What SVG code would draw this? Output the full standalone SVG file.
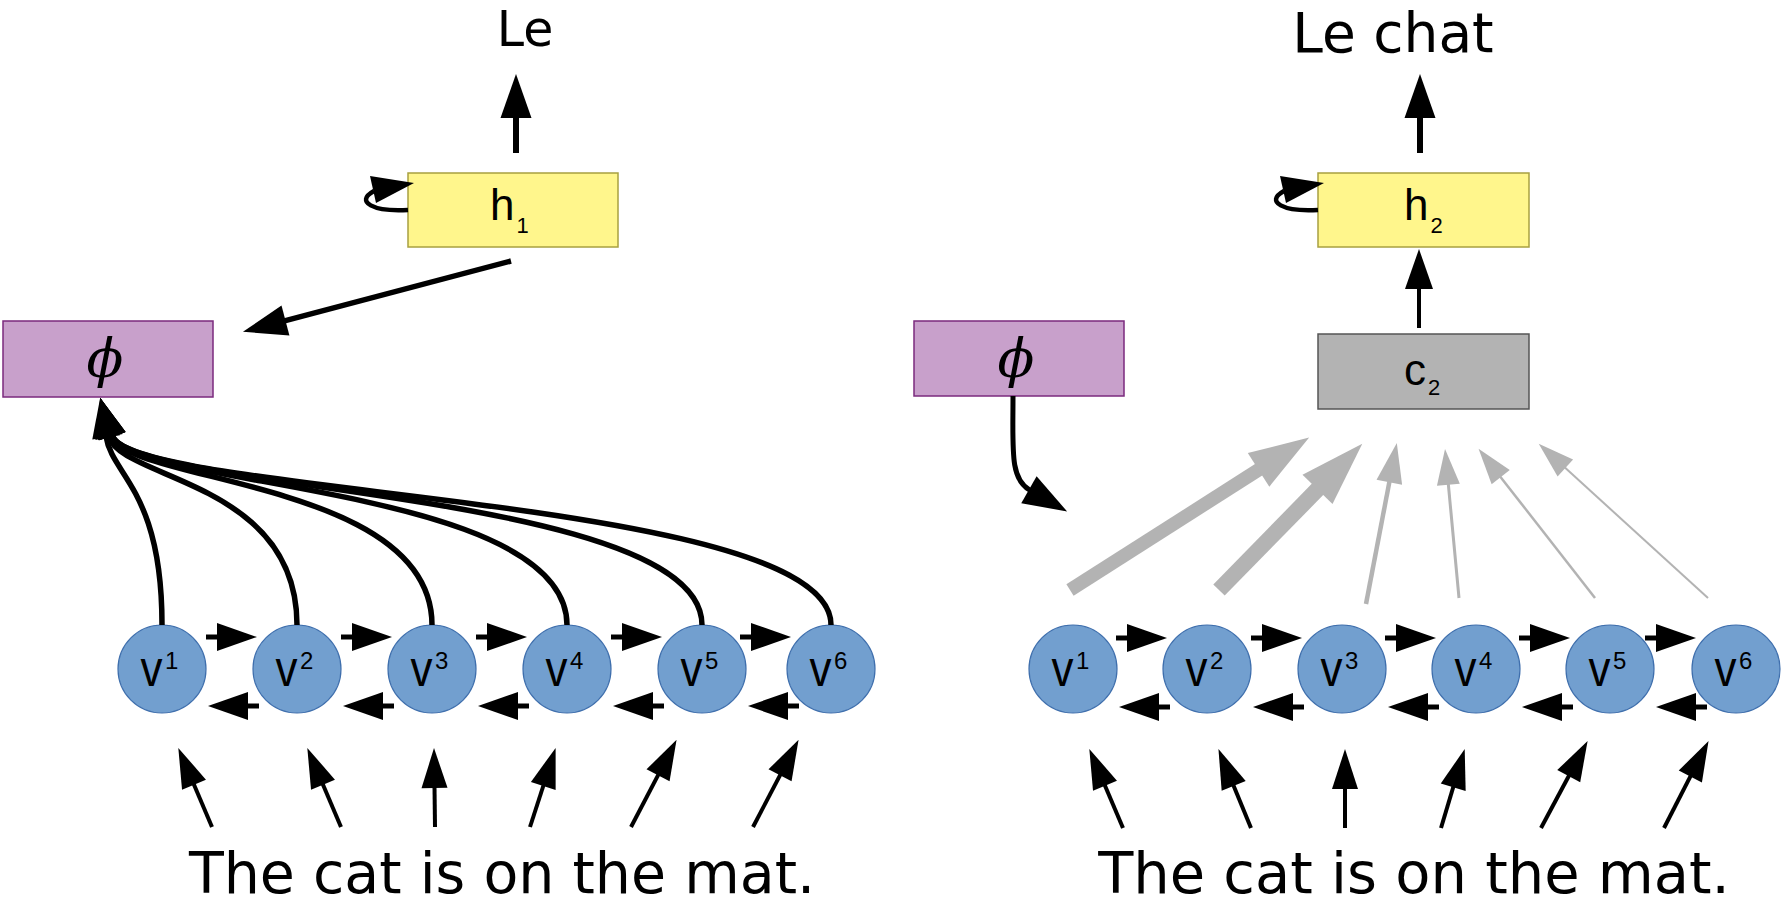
<svg xmlns="http://www.w3.org/2000/svg" width="1789" height="907" viewBox="0 0 1789 907">
<defs>
<style>
.big{font-family:"DejaVu Sans","Verdana",sans-serif;fill:#000}
.lbl{font-family:"Liberation Sans","Arial",sans-serif;fill:#000}
.vv{font-family:"Liberation Sans","Arial",sans-serif;fill:#000;font-size:44px}
.sup{font-family:"Liberation Sans","Arial",sans-serif;fill:#000;font-size:24px}
.phi{font-family:"DejaVu Serif","Liberation Serif",serif;font-style:italic;fill:#000}
.hbox{fill:#fff68c;stroke:#a8a040;stroke-width:1.5}
.pbox{fill:#c8a0cb;stroke:#7b2a7e;stroke-width:1.5}
.cbox{fill:#b3b3b3;stroke:#555;stroke-width:1.5}
.vc{fill:#729fcf;stroke:#3f6fad;stroke-width:1.2}
.k{fill:none;stroke:#000;stroke-linecap:butt}
.g{fill:none;stroke:#b3b3b3;stroke-linecap:butt}
</style>
<marker id="mBig" markerUnits="userSpaceOnUse" markerWidth="46" markerHeight="33" refX="1" refY="15.5" orient="auto" overflow="visible"><path d="M0,0 L44,15.5 L0,31 Z" fill="#000"/></marker>
<marker id="mMid" markerUnits="userSpaceOnUse" markerWidth="42" markerHeight="30" refX="1" refY="14" orient="auto" overflow="visible"><path d="M0,0 L40,14 L0,28 Z" fill="#000"/></marker>
<marker id="mIn" markerUnits="userSpaceOnUse" markerWidth="42" markerHeight="28" refX="1" refY="13" orient="auto" overflow="visible"><path d="M0,0 L40,13 L0,26 Z" fill="#000"/></marker>
<marker id="mG1" markerUnits="userSpaceOnUse" markerWidth="62" markerHeight="42" refX="1" refY="20" orient="auto" overflow="visible"><path d="M0,0 L60,20 L0,40 Z" fill="#b3b3b3"/></marker>
<marker id="mG2" markerUnits="userSpaceOnUse" markerWidth="66" markerHeight="44" refX="1" refY="21" orient="auto" overflow="visible"><path d="M0,0 L64,21 L0,42 Z" fill="#b3b3b3"/></marker>
<marker id="mG3" markerUnits="userSpaceOnUse" markerWidth="42" markerHeight="28" refX="1" refY="13" orient="auto" overflow="visible"><path d="M0,0 L40,13 L0,26 Z" fill="#b3b3b3"/></marker>
<marker id="mGs" markerUnits="userSpaceOnUse" markerWidth="38" markerHeight="25" refX="1" refY="11.5" orient="auto" overflow="visible"><path d="M0,0 L36,11.5 L0,23 Z" fill="#b3b3b3"/></marker>
</defs>
<rect width="1789" height="907" fill="#fff"/>

<g id="out-left"><text class="big" x="525" y="46" font-size="49" text-anchor="middle">Le</text></g>
<g id="out-right"><text class="big" x="1393" y="52" font-size="55" text-anchor="middle">Le chat</text></g>
<g id="in-left"><text class="big" x="502" y="893" font-size="57" text-anchor="middle">The cat is on the mat.</text></g>
<g id="in-right"><text class="big" x="1414" y="893" font-size="57.5" text-anchor="middle">The cat is on the mat.</text></g>

<g id="h1"><rect class="hbox" x="408" y="173" width="210" height="74"/><text class="lbl" x="490" y="220" font-size="44">h<tspan font-size="22" dx="2" dy="13">1</tspan></text></g>
<g id="h2"><rect class="hbox" x="1318" y="173" width="211" height="74"/><text class="lbl" x="1404" y="220" font-size="44">h<tspan font-size="22" dx="2" dy="13">2</tspan></text></g>
<g id="phi-left"><rect class="pbox" x="3" y="321" width="210" height="76"/><text class="phi" x="105" y="377" font-size="54" text-anchor="middle">ϕ</text></g>
<g id="phi-right"><rect class="pbox" x="914" y="321" width="210" height="75"/><text class="phi" x="1016" y="377" font-size="54" text-anchor="middle">ϕ</text></g>
<g id="c2"><rect class="cbox" x="1318" y="334" width="211" height="75"/><text class="lbl" x="1404" y="385" font-size="44">c<tspan font-size="22" dx="2" dy="10">2</tspan></text></g>

<g id="vL1"><circle class="vc" cx="162" cy="669" r="44"/><text class="vv" transform="translate(140.5,686) scale(1,1.12)">v</text><text class="sup" x="165" y="669">1</text></g>
<g id="vL2"><circle class="vc" cx="297" cy="669" r="44"/><text class="vv" transform="translate(275.5,686) scale(1,1.12)">v</text><text class="sup" x="300" y="669">2</text></g>
<g id="vL3"><circle class="vc" cx="432" cy="669" r="44"/><text class="vv" transform="translate(410.5,686) scale(1,1.12)">v</text><text class="sup" x="435" y="669">3</text></g>
<g id="vL4"><circle class="vc" cx="567" cy="669" r="44"/><text class="vv" transform="translate(545.5,686) scale(1,1.12)">v</text><text class="sup" x="570" y="669">4</text></g>
<g id="vL5"><circle class="vc" cx="702" cy="669" r="44"/><text class="vv" transform="translate(680.5,686) scale(1,1.12)">v</text><text class="sup" x="705" y="669">5</text></g>
<g id="vL6"><circle class="vc" cx="831" cy="669" r="44"/><text class="vv" transform="translate(809.5,686) scale(1,1.12)">v</text><text class="sup" x="834" y="669">6</text></g>
<g id="vR1"><circle class="vc" cx="1073" cy="669" r="44"/><text class="vv" transform="translate(1051.5,686) scale(1,1.12)">v</text><text class="sup" x="1076" y="669">1</text></g>
<g id="vR2"><circle class="vc" cx="1207" cy="669" r="44"/><text class="vv" transform="translate(1185.5,686) scale(1,1.12)">v</text><text class="sup" x="1210" y="669">2</text></g>
<g id="vR3"><circle class="vc" cx="1342" cy="669" r="44"/><text class="vv" transform="translate(1320.5,686) scale(1,1.12)">v</text><text class="sup" x="1345" y="669">3</text></g>
<g id="vR4"><circle class="vc" cx="1476" cy="669" r="44"/><text class="vv" transform="translate(1454.5,686) scale(1,1.12)">v</text><text class="sup" x="1479" y="669">4</text></g>
<g id="vR5"><circle class="vc" cx="1610" cy="669" r="44"/><text class="vv" transform="translate(1588.5,686) scale(1,1.12)">v</text><text class="sup" x="1613" y="669">5</text></g>
<g id="vR6"><circle class="vc" cx="1736" cy="669" r="44"/><text class="vv" transform="translate(1714.5,686) scale(1,1.12)">v</text><text class="sup" x="1739" y="669">6</text></g>

<g id="connectors">
<path class="k" stroke-width="6" d="M516,153 L516,117" marker-end="url(#mBig)"/>
<path class="k" stroke-width="6" d="M1420,153 L1420,117" marker-end="url(#mBig)"/>
<path class="k" stroke-width="4" d="M1419,328 L1419,288" marker-end="url(#mMid)"/>
<path class="k" stroke-width="4.5" d="M408,210 C374,212 354,202 374,191"/>
<polygon points="370,176 376,203 414,183" fill="#000"/>
<path class="k" stroke-width="4.5" d="M1318,210 C1284,212 1264,202 1284,191"/>
<polygon points="1280,176 1286,203 1324,183" fill="#000"/>
<path class="k" stroke-width="5.5" d="M511,261 L284.5,320.8" marker-end="url(#mBig)"/>
<path class="k" stroke-width="5.5" d="M162,625 C162,490 112,476 106,436.4" marker-end="url(#mMid)"/>
<path class="k" stroke-width="5.5" d="M297,625 C297,480 118.7,479.9 108.8,436" marker-end="url(#mMid)"/>
<path class="k" stroke-width="5.5" d="M432,625 C432,480 125.2,483.4 111.2,435.4" marker-end="url(#mMid)"/>
<path class="k" stroke-width="5.5" d="M567,625 C567,485 128.5,487.7 112,435.2" marker-end="url(#mMid)"/>
<path class="k" stroke-width="5.5" d="M702,625 C702,490 130,492.4 112,435.2" marker-end="url(#mMid)"/>
<path class="k" stroke-width="5.5" d="M831,625 C831,495 131.5,497 112,435.2" marker-end="url(#mMid)"/>
<path class="k" stroke-width="5" d="M1013,396 C1013,450 1009.8,478.8 1029.8,490.2" marker-end="url(#mBig)"/>
<path class="g" stroke-width="13.5" d="M1070,590 L1259.4,469.3" marker-end="url(#mG1)"/>
<path class="g" stroke-width="16" d="M1219,590 L1318.2,488.7" marker-end="url(#mG2)"/>
<path class="g" stroke-width="4.5" d="M1366,604 L1389.5,481.3" marker-end="url(#mG3)"/>
<path class="g" stroke-width="3" d="M1459,598 L1448.3,483.8" marker-end="url(#mGs)"/>
<path class="g" stroke-width="2.5" d="M1595,598 L1500.1,476.4" marker-end="url(#mGs)"/>
<path class="g" stroke-width="2" d="M1708,598 L1564.6,467.3" marker-end="url(#mGs)"/>
<path class="k" stroke-width="5" d="M206,637 L218,637" marker-end="url(#mMid)"/>
<path class="k" stroke-width="5" d="M341,637 L353,637" marker-end="url(#mMid)"/>
<path class="k" stroke-width="5" d="M476,637 L488,637" marker-end="url(#mMid)"/>
<path class="k" stroke-width="5" d="M611,637 L623,637" marker-end="url(#mMid)"/>
<path class="k" stroke-width="5" d="M740,637 L752,637" marker-end="url(#mMid)"/>
<path class="k" stroke-width="5" d="M259,706 L247,706" marker-end="url(#mMid)"/>
<path class="k" stroke-width="5" d="M394,706 L382,706" marker-end="url(#mMid)"/>
<path class="k" stroke-width="5" d="M529,706 L517,706" marker-end="url(#mMid)"/>
<path class="k" stroke-width="5" d="M664,706 L652,706" marker-end="url(#mMid)"/>
<path class="k" stroke-width="5" d="M799,706 L787,706" marker-end="url(#mMid)"/>
<path class="k" stroke-width="5" d="M1116,638 L1128,638" marker-end="url(#mMid)"/>
<path class="k" stroke-width="5" d="M1251,638 L1263,638" marker-end="url(#mMid)"/>
<path class="k" stroke-width="5" d="M1385,638 L1397,638" marker-end="url(#mMid)"/>
<path class="k" stroke-width="5" d="M1519,638 L1531,638" marker-end="url(#mMid)"/>
<path class="k" stroke-width="5" d="M1645,638 L1657,638" marker-end="url(#mMid)"/>
<path class="k" stroke-width="5" d="M1170,707 L1158,707" marker-end="url(#mMid)"/>
<path class="k" stroke-width="5" d="M1304,707 L1292,707" marker-end="url(#mMid)"/>
<path class="k" stroke-width="5" d="M1439,707 L1427,707" marker-end="url(#mMid)"/>
<path class="k" stroke-width="5" d="M1573,707 L1561,707" marker-end="url(#mMid)"/>
<path class="k" stroke-width="5" d="M1707,707 L1695,707" marker-end="url(#mMid)"/>
<path class="k" stroke-width="4" d="M212,827 L193.6,783.8" marker-end="url(#mIn)"/>
<path class="k" stroke-width="4" d="M341,827 L322.6,783.8" marker-end="url(#mIn)"/>
<path class="k" stroke-width="4" d="M435,827 L434.5,787" marker-end="url(#mIn)"/>
<path class="k" stroke-width="4" d="M530,827 L543.6,785" marker-end="url(#mIn)"/>
<path class="k" stroke-width="4" d="M631,827 L658.5,774.4" marker-end="url(#mIn)"/>
<path class="k" stroke-width="4" d="M753,827 L780.5,774.4" marker-end="url(#mIn)"/>
<path class="k" stroke-width="4" d="M1123,828 L1104.6,784.8" marker-end="url(#mIn)"/>
<path class="k" stroke-width="4" d="M1251,828 L1233.3,785" marker-end="url(#mIn)"/>
<path class="k" stroke-width="4" d="M1345,828 L1345,788" marker-end="url(#mIn)"/>
<path class="k" stroke-width="4" d="M1441,828 L1453.5,786.3" marker-end="url(#mIn)"/>
<path class="k" stroke-width="4" d="M1541,828 L1569.2,775.3" marker-end="url(#mIn)"/>
<path class="k" stroke-width="4" d="M1664,828 L1690.8,775.6" marker-end="url(#mIn)"/>
</g>
</svg>
